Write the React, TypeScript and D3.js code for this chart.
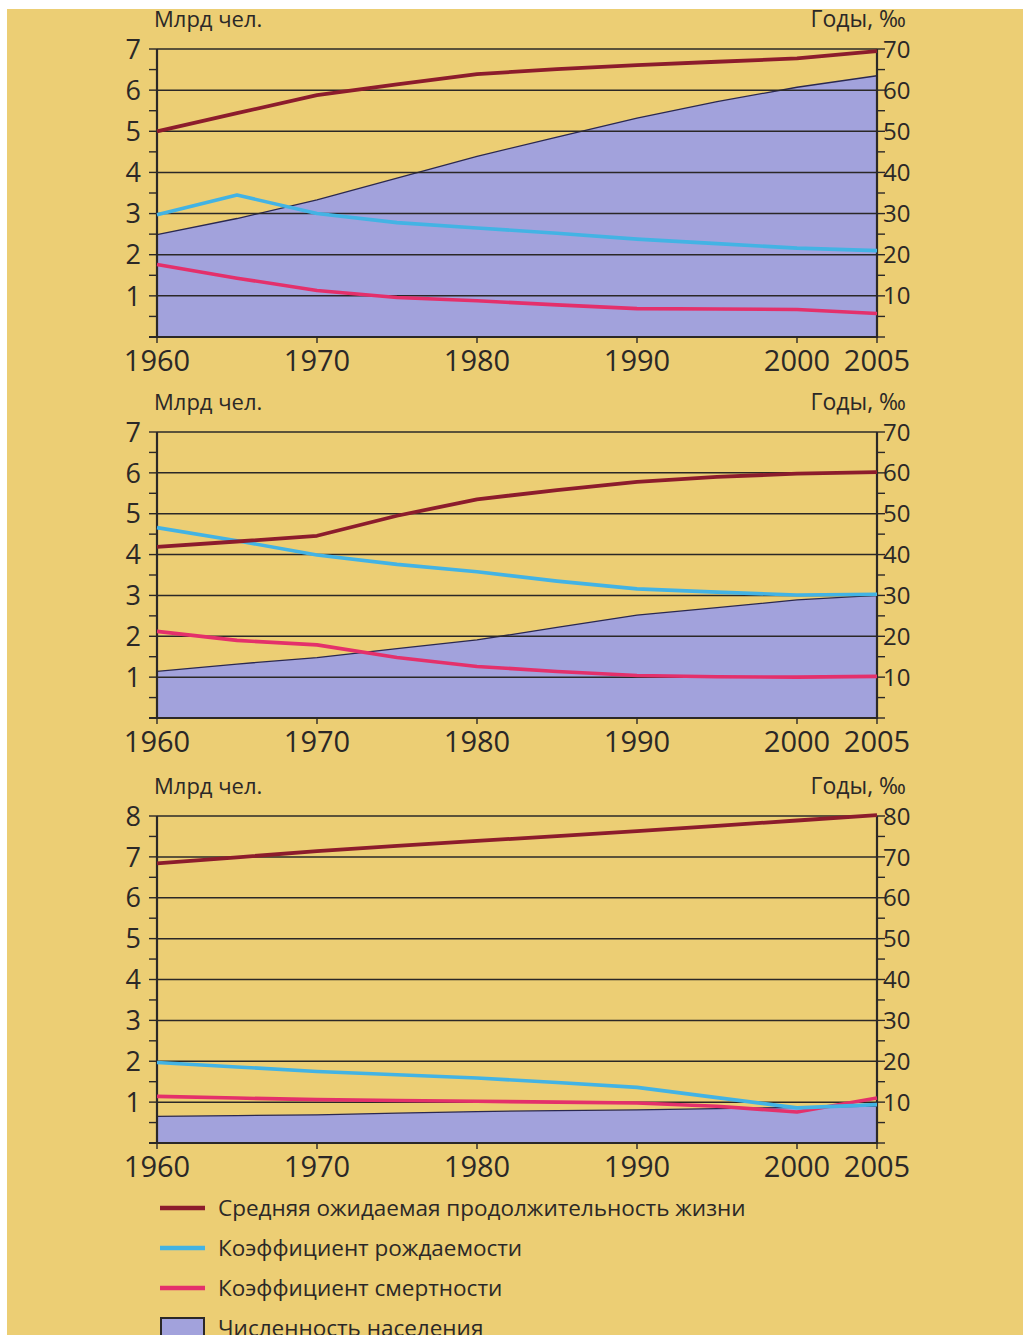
import React from "react";
import * as d3 from "d3";

const years = [1960, 1965, 1970, 1975, 1980, 1985, 1990, 1995, 2000, 2005];
const yearTicks = [1960, 1970, 1980, 1990, 2000, 2005];

// Chart 1 (world)
const life1 = [50, 54.4, 58.8, 61.4, 63.9, 65.1, 66.1, 66.9, 67.7, 69.5];
const birth1 = [29.7, 34.5, 30.0, 27.8, 26.5, 25.2, 23.8, 22.7, 21.6, 21.0];
const death1 = [17.6, 14.3, 11.3, 9.6, 8.8, 7.8, 6.9, 6.8, 6.7, 5.7];
const pop1 = [2.49, 2.88, 3.33, 3.86, 4.39, 4.86, 5.32, 5.72, 6.07, 6.35];

// Chart 2
const life2 = [41.9, 43.2, 44.6, 49.5, 53.5, 55.8, 57.8, 59.0, 59.8, 60.2];
const birth2 = [46.6, 43.4, 39.9, 37.6, 35.8, 33.5, 31.6, 30.8, 30.1, 30.3];
const death2 = [21.2, 19.0, 17.9, 14.8, 12.6, 11.4, 10.4, 10.1, 10.0, 10.2];
const pop2 = [1.14, 1.32, 1.48, 1.70, 1.91, 2.22, 2.52, 2.70, 2.89, 3.0];

// Chart 3
const life3 = [68.4, 69.9, 71.4, 72.7, 73.9, 75.1, 76.3, 77.6, 78.9, 80.2];
const birth3 = [19.7, 18.6, 17.5, 16.7, 15.9, 14.8, 13.6, 11.1, 8.6, 9.4];
const death3 = [11.4, 11.0, 10.6, 10.4, 10.2, 10.0, 9.8, 9.0, 7.6, 11.0];
const pop3 = [0.65, 0.67, 0.69, 0.73, 0.77, 0.79, 0.81, 0.84, 0.87, 0.9];

const leftTitle = "Млрд чел.";
const rightTitle = "Годы, ‰";
const legendLabels = [
  "Средняя ожидаемая продолжительность жизни",
  "Коэффициент рождаемости",
  "Коэффициент смертности",
  "Численность населения",
];

const BG = "#ecce74";
const POP_FILL = "#a2a2dc";
const LIFE = "#8c1c2c";
const BIRTH = "#43b3e4";
const DEATH = "#e4306b";
const INK = "#2b2827";
const FONT = "'Open Sans', 'DejaVu Sans', sans-serif";

type ChartProps = {
  top: number;
  bottom: number;
  max: number;
  life: number[];
  birth: number[];
  death: number[];
  pop: number[];
};

const X0 = 157;
const X1 = 877;

function Chart({ top, bottom, max, life, birth, death, pop }: ChartProps) {
  const x = d3.scaleLinear().domain([1960, 2005]).range([X0, X1]);
  const y = d3.scaleLinear().domain([0, max]).range([bottom, top]);
  const yR = d3.scaleLinear().domain([0, max * 10]).range([bottom, top]);
  const area = d3
    .area<number>()
    .x((_, i) => x(years[i]))
    .y0(y(0))
    .y1((d) => y(d));
  const popLine = d3
    .line<number>()
    .x((_, i) => x(years[i]))
    .y((d) => y(d));
  const rLine = d3
    .line<number>()
    .x((_, i) => x(years[i]))
    .y((d) => yR(d));
  const majors = d3.range(0, max + 1);
  const halves = d3.range(0.5, max, 1);
  return (
    <g>
      <path d={area(pop) || ""} fill={POP_FILL} />
      <path d={popLine(pop) || ""} fill="none" stroke="#2a2850" strokeWidth={1.3} />
      {majors.map((v) => (
        <line key={"g" + v} x1={X0} x2={X1} y1={y(v)} y2={y(v)} stroke={INK} strokeWidth={1.5} />
      ))}
      {/* left axis */}
      <line x1={X0} x2={X0} y1={top} y2={bottom + 1} stroke={INK} strokeWidth={2.2} />
      {majors.concat(halves).map((v) => (
        <line key={"lt" + v} x1={X0 - 8} x2={X0} y1={y(v)} y2={y(v)} stroke={INK} strokeWidth={1.4} />
      ))}
      {majors.map((v) =>
        v === 0 ? null : (
          <text key={"ll" + v} x={141} y={y(v)} dy="0.36em" textAnchor="end" fontSize={27} fill={INK} fontFamily={FONT}>
            {v}
          </text>
        )
      )}
      {/* right axis */}
      <line x1={X1} x2={X1} y1={top} y2={bottom + 1} stroke={INK} strokeWidth={2.2} />
      {majors.concat(halves).map((v) => (
        <line key={"rt" + v} x1={X1} x2={X1 + 8} y1={y(v)} y2={y(v)} stroke={INK} strokeWidth={1.4} />
      ))}
      {majors.map((v) =>
        v === 0 ? null : (
          <text key={"rl" + v} x={883} y={yR(v * 10)} dy="0.36em" textAnchor="start" fontSize={24} fill={INK} fontFamily={FONT}>
            {v * 10}
          </text>
        )
      )}
      {/* bottom axis */}
      <line x1={X0 - 8} x2={X1} y1={bottom} y2={bottom} stroke={INK} strokeWidth={2.2} />
      {yearTicks.map((t) => (
        <line key={"bt" + t} x1={x(t)} x2={x(t)} y1={bottom} y2={bottom + 6} stroke={INK} strokeWidth={1.4} />
      ))}
      {yearTicks.map((t) => (
        <text key={"bl" + t} x={x(t)} y={bottom + 34} textAnchor="middle" fontSize={29} fill={INK} fontFamily={FONT}>
          {t}
        </text>
      ))}
      {/* titles */}
      <text x={154} y={top - 22} fontSize={22} fill={INK} fontFamily={FONT}>
        {leftTitle}
      </text>
      <text x={906} y={top - 22} fontSize={23} fill={INK} fontFamily={FONT} textAnchor="end">
        {rightTitle}
      </text>
      {/* series */}
      <path d={rLine(death) || ""} fill="none" stroke={DEATH} strokeWidth={3.6} strokeLinejoin="round" />
      <path d={rLine(birth) || ""} fill="none" stroke={BIRTH} strokeWidth={3.6} strokeLinejoin="round" />
      <path d={rLine(life) || ""} fill="none" stroke={LIFE} strokeWidth={3.8} strokeLinejoin="round" />
    </g>
  );
}

export default function App() {
  const legendColors = [LIFE, BIRTH, DEATH];
  const legendY = d3.scaleLinear().domain([0, 3]).range([1208, 1328]);
  return (
    <svg width={1023} height={1335} style={{ position: "absolute", left: 0, top: 0, display: "block" }}>
      <rect x={0} y={0} width={1023} height={1335} fill="#ffffff" />
      <rect x={7} y={9} width={1016} height={1326} fill={BG} />
      <Chart top={49} bottom={337} max={7} life={life1} birth={birth1} death={death1} pop={pop1} />
      <Chart top={432} bottom={718} max={7} life={life2} birth={birth2} death={death2} pop={pop2} />
      <Chart top={816} bottom={1143} max={8} life={life3} birth={birth3} death={death3} pop={pop3} />
      {legendLabels.map((lbl, i) => (
        <g key={lbl}>
          {i < 3 ? (
            <line x1={160} x2={205} y1={legendY(i)} y2={legendY(i)} stroke={legendColors[i]} strokeWidth={4.5} />
          ) : (
            <rect x={161} y={1318} width={43} height={30} fill={POP_FILL} stroke={INK} strokeWidth={2} />
          )}
          <text x={218} y={legendY(i)} dy="0.35em" fontSize={22.5} fill={INK} fontFamily={FONT}>
            {lbl}
          </text>
        </g>
      ))}
    </svg>
  );
}
